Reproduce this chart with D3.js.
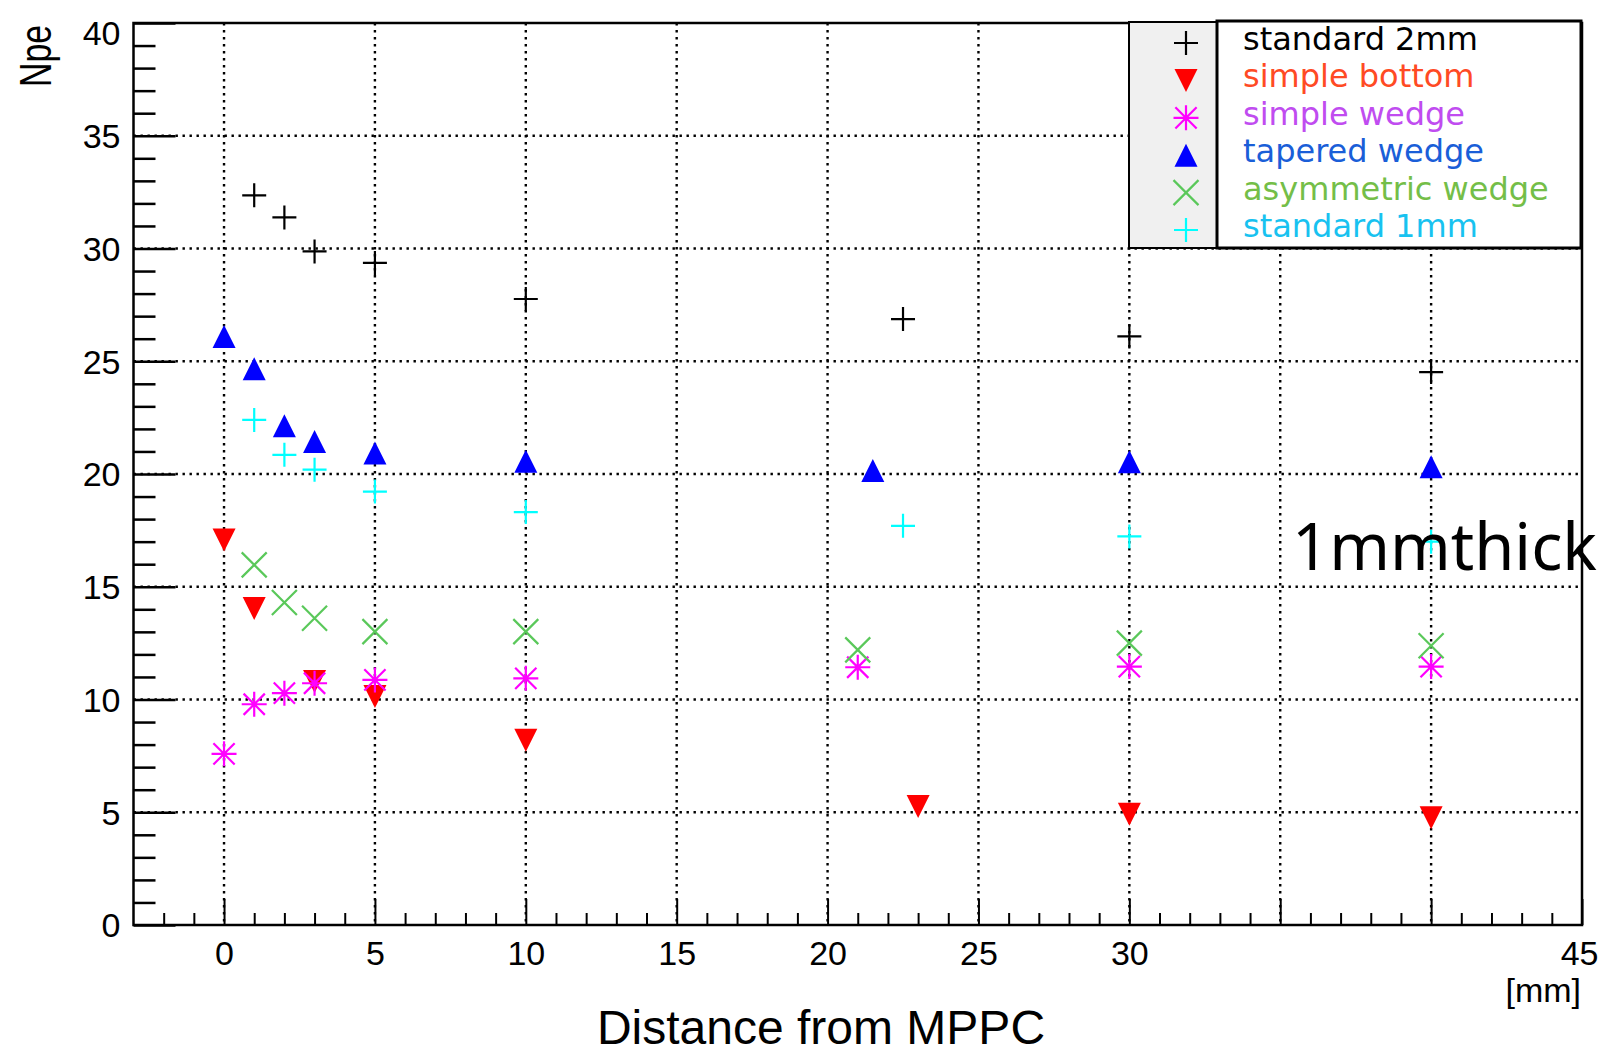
<!DOCTYPE html>
<html>
<head>
<meta charset="utf-8">
<title>Npe vs distance from MPPC</title>
<script src="https://cdn.jsdelivr.net/npm/d3@7"></script>
<style>
  body { margin: 0; background: #fff; }
  svg { display: block; }
  .axis-label { font-family: 'Liberation Sans', Arial, sans-serif; font-size: 34px; fill: #000; }
  .axis-title { font-family: 'Liberation Sans', Arial, sans-serif; fill: #000; }
  .legend-text { font-family: 'DejaVu Sans', sans-serif; font-size: 32px; }
  .grid line { stroke: #000; stroke-width: 2.4; stroke-dasharray: 2.4,4.6; }
</style>
</head>
<body>
<svg id="chart" width="1599" height="1054"></svg>
<script>
// Values (x = distance [mm], y = Npe)
const seriesNames = ['standard 2mm', 'simple bottom', 'simple wedge', 'tapered wedge', 'asymmetric wedge', 'standard 1mm'];

const std2mmX = [1, 2, 3, 5, 10, 22.5, 30, 40];
const std2mmY = [32.36, 31.38, 29.87, 29.36, 27.76, 26.87, 26.1, 24.52];

const simpleBottomX = [0, 1, 3, 5, 10, 23, 30, 40];
const simpleBottomY = [17.07, 14.03, 10.8, 10.13, 8.19, 5.25, 4.91, 4.76];

const simpleWedgeX = [0, 1, 2, 3, 5, 10, 21, 30, 40];
const simpleWedgeY = [7.59, 9.79, 10.28, 10.72, 10.87, 10.94, 11.43, 11.46, 11.46];

const taperedWedgeX = [0, 1, 2, 3, 5, 10, 21.5, 30, 40];
const taperedWedgeY = [26.1, 24.67, 22.14, 21.44, 20.93, 20.56, 20.16, 20.54, 20.32];

const asymWedgeX = [1, 2, 3, 5, 10, 21, 30, 40];
const asymWedgeY = [15.97, 14.3, 13.6, 13.01, 13.01, 12.2, 12.5, 12.38];

const std1mmX = [1, 2, 3, 5, 10, 22.5, 30, 40];
const std1mmY = [22.4, 20.85, 20.19, 19.22, 18.31, 17.7, 17.23, 17.0];

// Axis ticks (35 and 40 labels are blanked out in the original)
const xTickValues = [0, 5, 10, 15, 20, 25, 30, 35, 40, 45];
const xTickLabels = ['0', '5', '10', '15', '20', '25', '30', '', '', '45'];
const yTickValues = [0, 5, 10, 15, 20, 25, 30, 35, 40];

// Custom ROOT-like marker shapes (size = half width in px)
const plusSymbol = {
  draw(ctx, r) {
    ctx.moveTo(-r, 0); ctx.lineTo(r, 0);
    ctx.moveTo(0, -r); ctx.lineTo(0, r);
  },
};
const crossSymbol = {
  draw(ctx, r) {
    ctx.moveTo(-r, -r); ctx.lineTo(r, r);
    ctx.moveTo(-r, r); ctx.lineTo(r, -r);
  },
};
const starSymbol = {
  draw(ctx, r) {
    const d = r * 0.85;
    ctx.moveTo(-r, 0); ctx.lineTo(r, 0);
    ctx.moveTo(0, -r); ctx.lineTo(0, r);
    ctx.moveTo(-d, -d); ctx.lineTo(d, d);
    ctx.moveTo(-d, d); ctx.lineTo(d, -d);
  },
};
const triUpSymbol = {
  draw(ctx, r) {
    ctx.moveTo(-r, r); ctx.lineTo(r, r); ctx.lineTo(0, -r); ctx.closePath();
  },
};
const triDownSymbol = {
  draw(ctx, r) {
    ctx.moveTo(-r, -r); ctx.lineTo(r, -r); ctx.lineTo(0, r); ctx.closePath();
  },
};

// Build the series table from the arrays above
const series = [
  { name: seriesNames[0], xs: std2mmX, ys: std2mmY, symbol: plusSymbol, size: 12, color: '#000000', filled: false, text: '#000000' },
  { name: seriesNames[1], xs: simpleBottomX, ys: simpleBottomY, symbol: triDownSymbol, size: 11.5, color: '#ff0000', filled: true, text: '#ff4a24' },
  { name: seriesNames[2], xs: simpleWedgeX, ys: simpleWedgeY, symbol: starSymbol, size: 12.5, color: '#ff00ff', filled: false, text: '#c04cf0' },
  { name: seriesNames[3], xs: taperedWedgeX, ys: taperedWedgeY, symbol: triUpSymbol, size: 11.5, color: '#0000ff', filled: true, text: '#1a5ed8' },
  { name: seriesNames[4], xs: asymWedgeX, ys: asymWedgeY, symbol: crossSymbol, size: 12.5, color: '#5ac85a', filled: false, text: '#74be48' },
  { name: seriesNames[5], xs: std1mmX, ys: std1mmY, symbol: plusSymbol, size: 12, color: '#00ffff', filled: false, text: '#18c2f0' },
];

const svg = d3.select('#chart');

// Frame in pixels
const frame = { left: 133.5, top: 23, right: 1582, bottom: 925 };

const x = d3.scaleLinear().domain([-3, 45]).range([frame.left, frame.right]);
const y = d3.scaleLinear().domain([0, 40]).range([frame.bottom, frame.top]);

// Dotted grid at major ticks
const grid = svg.append('g').attr('class', 'grid');
grid.selectAll('.vgrid')
  .data(xTickValues.filter((v) => v > -3 && v < 45))
  .enter().append('line')
  .attr('class', 'vgrid')
  .attr('x1', (d) => x(d)).attr('x2', (d) => x(d))
  .attr('y1', frame.top).attr('y2', frame.bottom);
grid.selectAll('.hgrid')
  .data(yTickValues.filter((v) => v > 0 && v < 40))
  .enter().append('line')
  .attr('class', 'hgrid')
  .attr('x1', frame.left).attr('x2', frame.right)
  .attr('y1', (d) => y(d)).attr('y2', (d) => y(d));

// Frame box
svg.append('rect')
  .attr('x', frame.left).attr('y', frame.top)
  .attr('width', frame.right - frame.left).attr('height', frame.bottom - frame.top)
  .attr('fill', 'none').attr('stroke', '#000').attr('stroke-width', 2.5);

// Minor tick values (every 1 unit)
const xMinor = d3.range(-2, 45).filter((v) => v % 5 !== 0);
const yMinor = d3.range(1, 40).filter((v) => v % 5 !== 0);

function styleTicks(g, width) {
  g.select('.domain').remove();
  g.selectAll('.tick line').attr('stroke', '#000').attr('stroke-width', width);
}

// Y axis ticks point inward
svg.append('g')
  .attr('transform', `translate(${frame.left},0)`)
  .call(d3.axisRight(y).tickValues(yTickValues).tickSize(42).tickFormat(''))
  .call((g) => styleTicks(g, 2.5));
svg.append('g')
  .attr('transform', `translate(${frame.left},0)`)
  .call(d3.axisRight(y).tickValues(yMinor).tickSize(22).tickFormat(''))
  .call((g) => styleTicks(g, 2.5));

// X axis ticks point up from the bottom
svg.append('g')
  .attr('transform', `translate(0,${frame.bottom})`)
  .call(d3.axisTop(x).tickValues(xTickValues).tickSize(26).tickFormat(''))
  .call((g) => styleTicks(g, 2));
svg.append('g')
  .attr('transform', `translate(0,${frame.bottom})`)
  .call(d3.axisTop(x).tickValues(xMinor).tickSize(12).tickFormat(''))
  .call((g) => styleTicks(g, 2));

// Tick labels
const yLabels = svg.append('g')
  .attr('transform', `translate(${frame.left},0)`)
  .call(d3.axisLeft(y).tickValues(yTickValues).tickSize(0).tickPadding(13));
yLabels.select('.domain').remove();
yLabels.selectAll('text')
  .attr('class', 'axis-label')
  .attr('font-family', null).attr('font-size', null)
  .attr('dy', (d) => (d === 40 ? '0.62em' : '0.35em'));

const xLabels = svg.append('g')
  .attr('transform', `translate(0,${frame.bottom})`)
  .call(d3.axisBottom(x).tickValues(xTickValues).tickSize(0).tickPadding(16)
    .tickFormat((d, i) => xTickLabels[i]));
xLabels.select('.domain').remove();
xLabels.selectAll('text')
  .attr('class', 'axis-label')
  .attr('font-family', null).attr('font-size', null);
// Last label sits on the page edge: keep it inside
xLabels.selectAll('text')
  .filter((d) => d === 45)
  .attr('text-anchor', 'end')
  .attr('x', 16);

// Axis titles
svg.append('text')
  .attr('class', 'axis-title')
  .attr('x', 1581).attr('y', 1002)
  .attr('text-anchor', 'end')
  .style('font-size', '34px')
  .text('[mm]');

svg.append('text')
  .attr('class', 'axis-title')
  .attr('x', 821).attr('y', 1044)
  .attr('text-anchor', 'middle')
  .style('font-size', '48px')
  .text('Distance from MPPC');

svg.append('text')
  .attr('class', 'axis-title')
  .attr('transform', 'translate(51,56) rotate(-90)')
  .attr('text-anchor', 'middle')
  .attr('textLength', 62)
  .attr('lengthAdjust', 'spacingAndGlyphs')
  .style('font-size', '45px')
  .text('Npe');

// Data markers
const symbolPath = (s) => d3.symbol().type(s.symbol).size(s.size)();

series.forEach((s) => {
  const pts = s.xs.map((v, i) => ({ x: v, y: s.ys[i] }));
  svg.append('g')
    .attr('class', 'markers')
    .selectAll('path')
    .data(pts)
    .enter().append('path')
    .attr('transform', (d) => `translate(${x(d.x)},${y(d.y)})`)
    .attr('d', symbolPath(s))
    .attr('fill', s.filled ? s.color : 'none')
    .attr('stroke', s.filled ? 'none' : s.color)
    .attr('stroke-width', 2.2);
});

// Legend box: grey marker column + white text column
const legend = svg.append('g').attr('class', 'legend');
legend.append('rect')
  .attr('x', 1129).attr('y', 22).attr('width', 88).attr('height', 226)
  .attr('fill', '#f0f0f0').attr('stroke', '#000').attr('stroke-width', 2);
legend.append('rect')
  .attr('x', 1217).attr('y', 21).attr('width', 364).attr('height', 227)
  .attr('fill', '#fff').attr('stroke', '#000').attr('stroke-width', 3);

const rowY = (i) => 43 + i * 37.4;

legend.selectAll('.legend-marker')
  .data(series)
  .enter().append('path')
  .attr('class', 'legend-marker')
  .attr('transform', (d, i) => `translate(1186,${rowY(i)})`)
  .attr('d', (d) => symbolPath(d))
  .attr('fill', (d) => (d.filled ? d.color : 'none'))
  .attr('stroke', (d) => (d.filled ? 'none' : d.color))
  .attr('stroke-width', 2.2);

legend.selectAll('.legend-text')
  .data(series)
  .enter().append('text')
  .attr('class', 'legend-text')
  .attr('x', 1243)
  .attr('y', (d, i) => rowY(i) + 7)
  .attr('fill', (d) => d.text)
  .text((d) => d.name);

// Annotation
svg.append('text')
  .attr('x', 1292).attr('y', 570)
  .style('font-family', "'Noto Sans', sans-serif")
  .style('font-size', '65px')
  .attr('fill', '#000')
  .text('1mmthick');
</script>
</body>
</html>
